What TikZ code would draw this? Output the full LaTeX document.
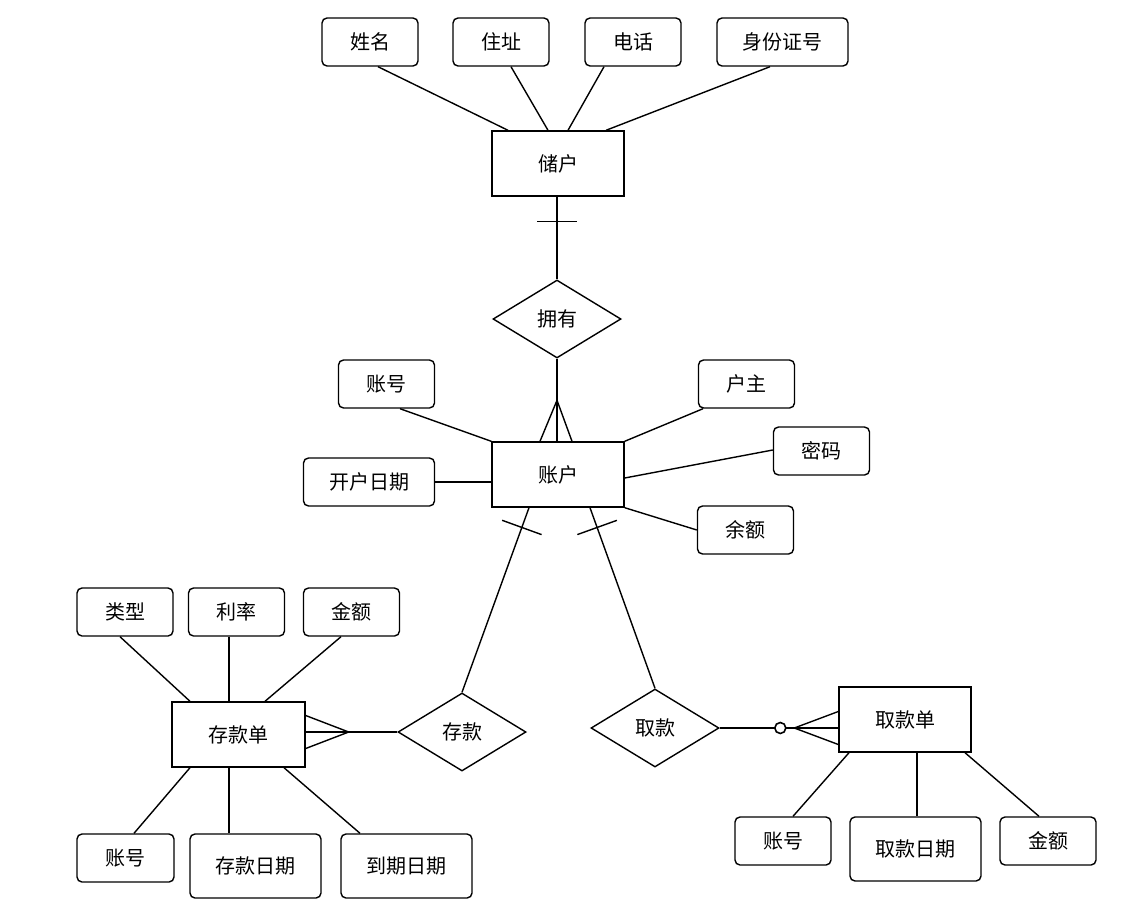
\documentclass[tikz,border=0pt]{standalone}
\usepackage{fontspec}
\setmainfont{Noto Sans CJK SC}
\usetikzlibrary{shapes.geometric,calc}
\begin{document}
\begin{tikzpicture}[x=1pt,y=-1pt,line width=1.4pt,
  every node/.style={font=\fontsize{20}{23}\selectfont},
  attr/.style={draw,rounded corners=5pt,minimum width=96pt,minimum height=48pt,inner sep=0pt},
  wattr/.style={attr,minimum width=131pt},
  tattr/.style={attr,minimum width=131pt,minimum height=64pt},
  entity/.style={draw,minimum width=132pt,minimum height=65pt,inner sep=0pt},
  rel/.style={draw,diamond,aspect=1.64,minimum width=128pt,minimum height=78pt,inner sep=0pt}]
\useasboundingbox (0,0) rectangle (1127,913);
% top entity
\node[attr] (xm) at (370,42) {姓名};
\node[attr] (zz) at (501,42) {住址};
\node[attr] (dh) at (633,42) {电话};
\node[wattr] (sf) at (782.5,42) {身份证号};
\node[entity] (ch) at (558,163.5) {储户};
\draw ([xshift=8]xm.south) -- ([xshift=-50]ch.north);
\draw ([xshift=10]zz.south) -- ([xshift=-10]ch.north);
\draw ([xshift=-29]dh.south) -- ([xshift=10]ch.north);
\draw ([xshift=-12.5]sf.south) -- ([xshift=48]ch.north);
% relation 拥有
\node[rel] (yy) at (557,319) {拥有};
\draw (ch.south -| yy.north) -- (yy.north);
\draw ([yshift=-25]ch.south -| yy.north) ++(-20,0) -- ++(40,0);
% 账户
\node[entity] (zh) at (558,474.5) {账户};
\draw (yy.south) -- (yy.south |- zh.north);
\draw ([xshift=-17]yy.south |- zh.north) -- ([yshift=41]yy.south |- zh.north) -- ([xshift=15]yy.south |- zh.north);
\node[attr] (zha) at (386.5,384) {账号};
\node[attr] (hz) at (746.5,384) {户主};
\node[attr] (mm) at (821.5,451) {密码};
\node[wattr] (kh) at (369,482) {开户日期};
\node[attr] (ye) at (745.5,530) {余额};
\draw ([xshift=13.5]zha.south) -- (zh.north west);
\draw ([xshift=-43.5]hz.south) -- (zh.north east);
\draw ([yshift=1]mm.west) -- ([yshift=-3.5]zh.east);
\draw (kh.east) -- (kh.east -| zh.west);
\draw (ye.west) -- (zh.south east);
% 存款 / 取款 relations
\node[rel] (ck) at (462,732) {存款};
\node[rel] (qk) at (655,728) {取款};
\coordinate (zs1) at ([xshift=-29]zh.south);
\coordinate (zs2) at ([xshift=32]zh.south);
\draw (zs1) -- (ck.north);
\draw (zs2) -- (qk.north);
\coordinate (t1) at ($(zs1)!21pt!(ck.north)$);
\coordinate (t2) at ($(zs2)!21pt!(qk.north)$);
\draw ($(t1)!21pt!90:(ck.north)$) -- ($(t1)!21pt!-90:(ck.north)$);
\draw ($(t2)!21pt!90:(qk.north)$) -- ($(t2)!21pt!-90:(qk.north)$);
% 存款单
\node[entity,minimum width=133pt] (cd) at (238.5,734.5) {存款单};
\coordinate (cdj) at (ck.west -| cd.east);
\draw (ck.west) -- (cdj);
\draw ([yshift=16.5]cdj) -- ([xshift=43]cdj) -- ([yshift=-16.5]cdj);
\node[attr] (lx) at (125,612) {类型};
\node[attr] (ll) at (236.5,612) {利率};
\node[attr] (je) at (351.5,612) {金额};
\node[attr,minimum width=97pt] (zhb) at (125.5,858) {账号};
\node[tattr] (ckrq) at (255.5,866) {存款日期};
\node[tattr] (dqrq) at (406.5,866) {到期日期};
\draw ([xshift=-5]lx.south) -- ([xshift=-48.5]cd.north);
\draw ([xshift=-7.5]ll.south) -- ([xshift=-7.5]ll.south |- cd.north);
\draw ([xshift=-10.5]je.south) -- ([xshift=26.5]cd.north);
\draw ([xshift=-48.5]cd.south) -- ([xshift=8.5]zhb.north);
\draw ([xshift=-9.5]cd.south) -- ([xshift=-9.5]cd.south |- ckrq.north);
\draw ([xshift=45.5]cd.south) -- ([xshift=-46.5]dqrq.north);
% 取款单
\node[entity] (qd) at (905,719.5) {取款单};
\coordinate (qdj) at (qk.east -| qd.west);
\draw (qk.east) -- (qdj);
\draw ([yshift=16.5]qdj) -- ([xshift=-44]qdj) -- ([yshift=-16.5]qdj);
\node[draw,circle,fill=white,inner sep=0pt,minimum size=11pt,line width=1.6pt] (oc) at ([xshift=-58]qdj) {};
\node[attr] (zhc) at (783,841) {账号};
\node[tattr] (qkrq) at (915.5,849) {取款日期};
\node[attr] (je2) at (1048,841) {金额};
\draw ([xshift=-56]qd.south) -- ([xshift=10]zhc.north);
\draw ([xshift=12]qd.south) -- ([xshift=12]qd.south |- qkrq.north);
\draw ([xshift=60]qd.south) -- ([xshift=-9]je2.north);
\end{tikzpicture}
\end{document}
